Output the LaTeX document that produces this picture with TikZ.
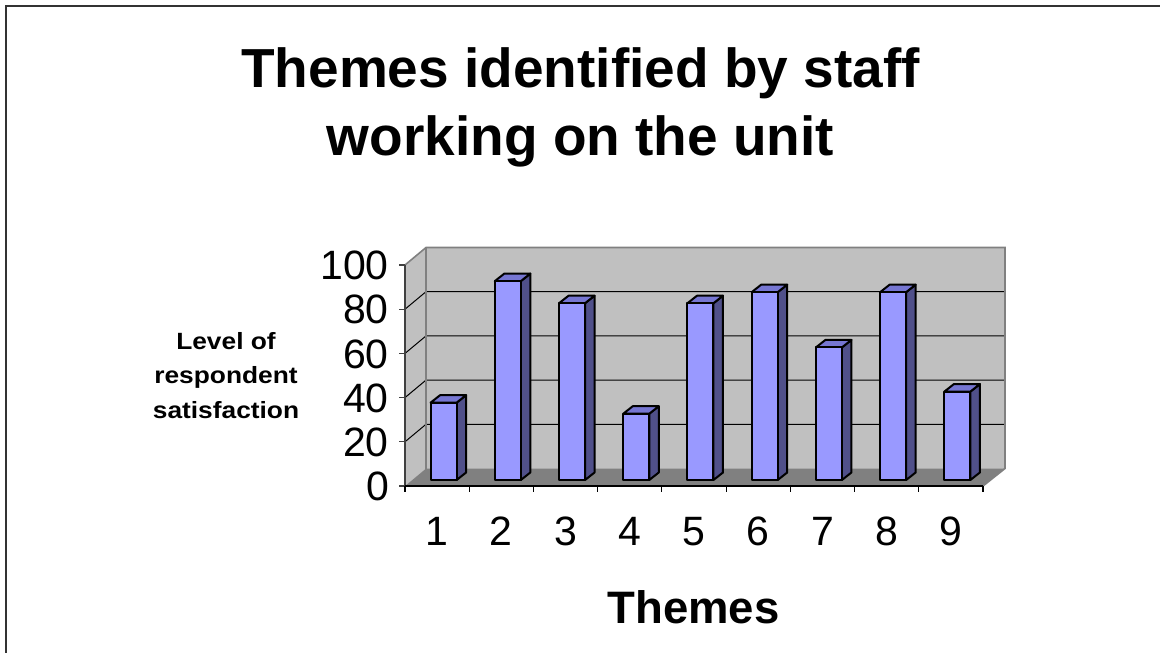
\documentclass[tikz,border=0pt]{standalone}
\usepackage{fontspec}
\setmainfont{Liberation Sans}
\newfontfamily\widefont[FakeStretch=1.12]{Liberation Sans}
\definecolor{barfront}{RGB}{153,153,255}
\definecolor{bartop}{RGB}{118,118,210}
\definecolor{barside}{RGB}{80,80,138}
\definecolor{wallgray}{RGB}{192,192,192}
\definecolor{floorgray}{RGB}{128,128,128}
\definecolor{edgegray}{RGB}{128,128,128}
\tikzset{
  barface/.style={draw=black,line width=2pt,line join=round},
  gridln/.style={draw=black,line width=1pt},
  walledge/.style={draw=edgegray,line width=1.6pt},
  ticklab/.style={inner sep=0pt,font=\fontsize{41}{41}\selectfont},
  titlelab/.style={inner sep=0pt,font=\fontsize{55}{68}\selectfont\bfseries},
  ylabtxt/.style={inner sep=0pt,font=\fontsize{23.5}{34}\selectfont\widefont\bfseries},
  xtitle/.style={inner sep=0pt,font=\fontsize{45.5}{50}\selectfont\bfseries}
}
\begin{document}
\begin{tikzpicture}[x=1pt,y=-1pt]
\useasboundingbox (0,0) rectangle (1160,653);
% frame
\draw[black!80,line width=2pt] (6,653) -- (6,6) -- (1160,6);
% title
\node[titlelab,anchor=base] (title1) at (580.5,87) {Themes identified by staff};
\node[titlelab,anchor=base] (title2) at (580.5,155) {working on the unit};
% walls
\fill[wallgray] (405,265) -- (426,247.5) -- (426,468.5) -- (405,486) -- cycle;
\fill[wallgray] (426,247.5) rectangle (1005,468.5);
\fill[floorgray] (405,486) -- (983,486) -- (1005,468.5) -- (426,468.5) -- cycle;
% gridlines
\foreach \v in {20,40,60,80}{
  \pgfmathsetmacro{\fy}{486-2.21*\v}
  \pgfmathsetmacro{\by}{\fy-17.5}
  \draw[gridln] (405,\fy) -- (426,\by) -- (1005,\by);
}
% wall edges
\draw[walledge] (405,265) -- (426,247.5) -- (1005,247.5) -- (1005,468.5) -- (983,486);
\draw[walledge] (426,247.5) -- (426,468.5);
% bars
\foreach \i/\v in {1/35,2/90,3/80,4/30,5/80,6/85,7/60,8/85,9/40}{
  \pgfmathsetmacro{\cx}{405+(\i-0.5)*64.22}
  \pgfmathsetmacro{\xl}{\cx-13+6.5}
  \pgfmathsetmacro{\xr}{\cx+13+6.5}
  \pgfmathsetmacro{\xrb}{\xr+9.5}
  \pgfmathsetmacro{\xlb}{\xl+9.5}
  \pgfmathsetmacro{\yt}{480-2.21*\v}
  \pgfmathsetmacro{\ytb}{\yt-7.5}
  \draw[barface,fill=barside] (\xr,480) -- (\xrb,472.5) -- (\xrb,\ytb) -- (\xr,\yt) -- cycle;
  \draw[barface,fill=bartop] (\xl,\yt) -- (\xlb,\ytb) -- (\xrb,\ytb) -- (\xr,\yt) -- cycle;
  \draw[barface,fill=barfront] (\xl,\yt) rectangle (\xr,480);
}
% value axis
\draw[black!75,line width=1.2pt] (405,265) -- (405,486);
\foreach \v in {0,20,40,60,80,100}{
  \pgfmathsetmacro{\fy}{486-2.21*\v}
  \draw[black!75,line width=1.2pt] (399,\fy) -- (405,\fy);
  \node[ticklab,anchor=base east] (ylab\v) at (389,\fy+14.7) {\v};
}
% category axis
\draw[black,line width=2pt] (405,486) -- (983,486);
\foreach \k in {0,...,9}{
  \pgfmathsetmacro{\tx}{405+\k*64.22}
  \draw[black,line width=1.2pt] (\tx,486) -- (\tx,492);
}
\foreach \i in {1,...,9}{
  \pgfmathsetmacro{\cx}{405+(\i-0.5)*64.22}
  \node[ticklab,anchor=base] (xlab\i) at (\cx,545) {\i};
}
% axis titles
\node[ylabtxt,anchor=base] (yt1) at (226,349) {Level of};
\node[ylabtxt,anchor=base] (yt2) at (226,383.5) {respondent};
\node[ylabtxt,anchor=base] (yt3) at (226,418) {satisfaction};
\node[xtitle,anchor=base] (xt) at (693.5,623.3) {Themes};
\end{tikzpicture}
\end{document}
